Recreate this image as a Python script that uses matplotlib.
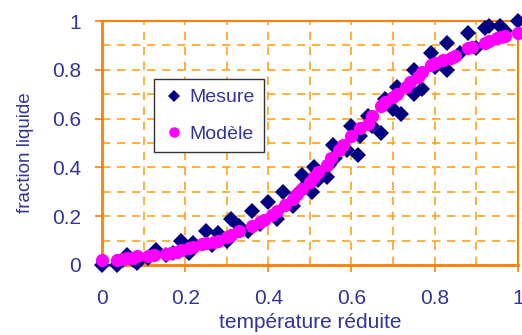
import matplotlib
matplotlib.use("Agg")
import matplotlib.pyplot as plt
from matplotlib.ticker import MultipleLocator

plt.rcParams['font.family'] = ['Liberation Sans', 'DejaVu Sans']

mesure_x = [0.00, 0.035, 0.05, 0.06, 0.075, 0.085, 0.11, 0.13, 0.155, 0.17,
            0.19, 0.21, 0.22, 0.25, 0.265, 0.28, 0.30, 0.31, 0.33, 0.35,
            0.36, 0.38, 0.40, 0.42, 0.435, 0.46, 0.47, 0.48, 0.49, 0.505,
            0.51, 0.52, 0.54, 0.545, 0.555, 0.56, 0.59, 0.60, 0.615, 0.62,
            0.64, 0.65, 0.67, 0.68, 0.70, 0.71, 0.72, 0.75, 0.75, 0.77,
            0.79, 0.80, 0.83, 0.83, 0.86, 0.88, 0.90, 0.92, 0.93, 0.957,
            0.97, 1.00]
mesure_y = [0.00, 0.00, 0.02, 0.04, 0.02, 0.01, 0.03, 0.06, 0.04, 0.05,
            0.10, 0.05, 0.09, 0.14, 0.08, 0.13, 0.10, 0.19, 0.16, 0.14,
            0.22, 0.17, 0.26, 0.19, 0.30, 0.24, 0.29, 0.37, 0.33, 0.30,
            0.40, 0.35, 0.36, 0.41, 0.49, 0.44, 0.47, 0.57, 0.45, 0.53,
            0.61, 0.57, 0.54, 0.68, 0.64, 0.73, 0.62, 0.70, 0.80, 0.72,
            0.87, 0.81, 0.91, 0.80, 0.87, 0.95, 0.89, 0.97, 0.98, 0.98,
            0.96, 1.00]

modele_x = [0.00, 0.035, 0.05, 0.06, 0.075, 0.085, 0.11, 0.125, 0.155, 0.165,
            0.18, 0.19, 0.21, 0.22, 0.24, 0.25, 0.27, 0.28, 0.30, 0.31,
            0.33, 0.36, 0.38, 0.39, 0.41, 0.42, 0.44, 0.46, 0.47, 0.48,
            0.50, 0.51, 0.52, 0.54, 0.55, 0.57, 0.58, 0.60, 0.62, 0.64,
            0.65, 0.67, 0.68, 0.70, 0.71, 0.73, 0.74, 0.76, 0.77, 0.79,
            0.80, 0.82, 0.84, 0.85, 0.88, 0.89, 0.92, 0.93, 0.95, 0.96,
            0.97, 1.00]
modele_y = [0.02, 0.02, 0.025, 0.03, 0.03, 0.035, 0.035, 0.04, 0.045, 0.05,
            0.055, 0.06, 0.07, 0.075, 0.085, 0.09, 0.095, 0.10, 0.115, 0.125,
            0.14, 0.16, 0.175, 0.185, 0.205, 0.22, 0.245, 0.27, 0.29, 0.31,
            0.34, 0.36, 0.38, 0.41, 0.44, 0.47, 0.49, 0.53, 0.56, 0.58,
            0.61, 0.65, 0.67, 0.69, 0.70, 0.73, 0.75, 0.77, 0.79, 0.82,
            0.83, 0.84, 0.85, 0.855, 0.89, 0.895, 0.91, 0.92, 0.93, 0.935,
            0.94, 0.95]

xticks = [0, 0.2, 0.4, 0.6, 0.8, 1]
xtick_labels = ['0', '0.2', '0.4', '0.6', '0.8', '1']
yticks = [0, 0.2, 0.4, 0.6, 0.8, 1]
ytick_labels = ['0', '0.2', '0.4', '0.6', '0.8', '1']

text_color = '#333399'
frame_color = '#FF8000'
grid_color = '#FFA31A'

fig = plt.figure(figsize=(5.22, 3.35), dpi=100)
ax = fig.add_axes([0.1954, 0.209, 0.7966, 0.728])

ax.plot(mesure_x, mesure_y, linestyle='none', marker='D', markersize=8,
        color='#000080', markeredgewidth=0, label='Mesure', clip_on=False, zorder=3)
ax.plot(modele_x, modele_y, linestyle='none', marker='o', markersize=9.5,
        color='#FF00FF', markeredgewidth=0, label='Modèle', clip_on=False, zorder=4)

ax.set_xlim(0, 1)
ax.set_ylim(0, 1)
ax.set_xticks(xticks)
ax.set_xticklabels(xtick_labels)
ax.set_yticks(yticks)
ax.set_yticklabels(ytick_labels)
ax.xaxis.set_minor_locator(MultipleLocator(0.1))
ax.yaxis.set_minor_locator(MultipleLocator(0.1))
ax.grid(True, which='both', color=grid_color, linestyle=(0, (5, 4)), linewidth=1.2)
ax.set_axisbelow(True)

for s in ax.spines.values():
    s.set_color(frame_color)
    s.set_linewidth(1.5)
ax.spines['left'].set_linewidth(2)
ax.spines['bottom'].set_linewidth(2)

ax.tick_params(which='major', direction='out', length=5, width=1.2,
               color=frame_color, labelcolor=text_color, labelsize=15)
ax.tick_params(axis='x', which='major', pad=12)
ax.tick_params(axis='y', which='major', pad=10)
ax.tick_params(which='minor', length=0)

ax.set_xlabel('température réduite', color=text_color, fontsize=15, labelpad=4)
fig.text(25 / 522, 1 - 153 / 335, 'fraction liquide', color=text_color,
         fontsize=13.5, rotation=90, ha='center', va='center')

leg = ax.legend(loc='upper left', bbox_to_anchor=(0.125, 0.762), fontsize=14,
                frameon=True, fancybox=False, framealpha=1, edgecolor='#333333',
                handletextpad=0.2, handlelength=1.1, borderpad=0.5, labelspacing=0.95,
                markerscale=0.8, borderaxespad=0)
leg.get_frame().set_linewidth(1)
for t in leg.get_texts():
    t.set_color(text_color)

fig.savefig('out.png', dpi=100)
